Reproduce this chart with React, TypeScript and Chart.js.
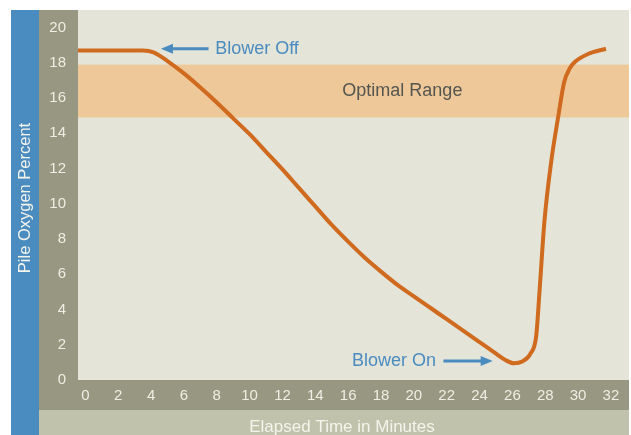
import React, { useEffect, useRef } from "react";
import { Chart, registerables } from "chart.js";

Chart.register(...registerables);

// ---- data ----
const minutes = [-0.45, 3.5, 4.15, 5, 6, 7, 8, 9, 10, 11, 12, 13, 14, 15, 16, 17, 18, 19, 20, 21, 22, 23, 24, 25, 25.6, 26.1, 26.6, 27.1, 27.45, 27.65, 27.95, 28.35, 28.8, 29.15, 29.5, 29.8, 30.6, 31.7];
const oxygenPercent = [18.7, 18.7, 18.6, 18.1, 17.4, 16.6, 15.75, 14.85, 13.95, 12.95, 11.95, 10.9, 9.85, 8.8, 7.85, 6.95, 6.15, 5.4, 4.75, 4.1, 3.45, 2.8, 2.15, 1.5, 1.12, 0.95, 1.05, 1.5, 2.5, 5.0, 9.0, 12.3, 15.0, 16.9, 17.7, 18.05, 18.5, 18.8];
const xTickValues = [0, 2, 4, 6, 8, 10, 12, 14, 16, 18, 20, 22, 24, 26, 28, 30, 32];
const yTickValues = [0, 2, 4, 6, 8, 10, 12, 14, 16, 18, 20];
const optimalLow = 14.9;
const optimalHigh = 17.9;
const xRange = [-0.45, 33.1];
const yRange = [0, 21];
const xTitle = "Elapsed Time in Minutes";
const yTitle = "Pile Oxygen Percent";
const bandLabel = "Optimal Range";
const blowerOff = { text: "Blower Off", headX: 4.6, tailX: 7.5, textX: 7.9, y: 18.8 };
const blowerOn = { text: "Blower On", headX: 24.8, tailX: 21.8, textX: 21.35, y: 1.08 };

// ---- styles ----
const FONT = "'Liberation Sans', Arial, Helvetica, sans-serif";
const BLUE = "#4A8CC0";
const OLIVE = "#989781";
const OLIVE_LIGHT = "#C1C2AC";
const PLOT_BG = "#E4E4D9";
const BAND = "#EEC898";
const LINE = "#CF6A1F";
const TICK_TEXT = "#EEEEE4";

function drawArrow(ctx: CanvasRenderingContext2D, x1: number, x2: number, y: number) {
  const dir = x2 > x1 ? 1 : -1;
  const headLen = 12;
  ctx.save();
  ctx.strokeStyle = BLUE;
  ctx.fillStyle = BLUE;
  ctx.lineWidth = 3;
  ctx.beginPath();
  ctx.moveTo(x1, y);
  ctx.lineTo(x2 - dir * headLen + dir * 2, y);
  ctx.stroke();
  ctx.beginPath();
  ctx.moveTo(x2, y);
  ctx.lineTo(x2 - dir * headLen, y - 5);
  ctx.lineTo(x2 - dir * headLen, y + 5);
  ctx.closePath();
  ctx.fill();
  ctx.restore();
}

const decorPlugin = {
  id: "decor",
  beforeDraw(chart: any) {
    const { ctx, chartArea } = chart;
    const W = chart.width;
    const H = chart.height;
    ctx.save();
    ctx.fillStyle = "#FFFFFF";
    ctx.fillRect(0, 0, W, H);
    ctx.fillStyle = BLUE;
    ctx.fillRect(11, chartArea.top, 28, H - chartArea.top);
    ctx.fillStyle = OLIVE;
    ctx.fillRect(39, chartArea.top, chartArea.left - 39, chartArea.bottom - chartArea.top + 30);
    ctx.fillRect(39, chartArea.bottom, chartArea.right - 39, 30);
    ctx.fillStyle = OLIVE_LIGHT;
    ctx.fillRect(39, chartArea.bottom + 30, chartArea.right - 39, H - chartArea.bottom - 30);
    ctx.fillStyle = PLOT_BG;
    ctx.fillRect(chartArea.left, chartArea.top, chartArea.right - chartArea.left, chartArea.bottom - chartArea.top);
    ctx.restore();
  },
  beforeDatasetsDraw(chart: any) {
    const { ctx, chartArea, scales } = chart;
    const y1 = scales.y.getPixelForValue(optimalHigh);
    const y2 = scales.y.getPixelForValue(optimalLow);
    ctx.save();
    ctx.fillStyle = BAND;
    ctx.fillRect(chartArea.left, y1, chartArea.right - chartArea.left, y2 - y1);
    ctx.fillStyle = "#555550";
    ctx.font = `18px ${FONT}`;
    ctx.textAlign = "center";
    ctx.textBaseline = "middle";
    ctx.fillText(bandLabel, scales.x.getPixelForValue(19.3), (y1 + y2) / 2);
    ctx.restore();
  },
  afterDatasetsDraw(chart: any) {
    const { ctx, chartArea, scales } = chart;
    const H = chart.height;
    ctx.save();
    ctx.font = `18px ${FONT}`;
    ctx.fillStyle = BLUE;
    ctx.textBaseline = "middle";
    const offY = scales.y.getPixelForValue(blowerOff.y);
    drawArrow(ctx, scales.x.getPixelForValue(blowerOff.tailX), scales.x.getPixelForValue(blowerOff.headX), offY);
    ctx.textAlign = "left";
    ctx.fillText(blowerOff.text, scales.x.getPixelForValue(blowerOff.textX), offY);
    const onY = scales.y.getPixelForValue(blowerOn.y);
    drawArrow(ctx, scales.x.getPixelForValue(blowerOn.tailX), scales.x.getPixelForValue(blowerOn.headX), onY);
    ctx.textAlign = "right";
    ctx.fillText(blowerOn.text, scales.x.getPixelForValue(blowerOn.textX), onY);
    ctx.fillStyle = "#F4F4EC";
    ctx.font = `17px ${FONT}`;
    ctx.textAlign = "center";
    ctx.textBaseline = "middle";
    ctx.fillText(xTitle, 342, chartArea.bottom + 30 + (H - chartArea.bottom - 30) / 2 + 5);
    ctx.translate(25, 198);
    ctx.rotate(-Math.PI / 2);
    ctx.font = `16.5px ${FONT}`;
    ctx.fillText(yTitle, 0, 0);
    ctx.restore();
  },
};

export default function App() {
  const canvasRef = useRef<HTMLCanvasElement | null>(null);

  useEffect(() => {
    if (!canvasRef.current) return;
    const chart = new Chart(canvasRef.current, {
      type: "line",
      data: {
        datasets: [
          {
            data: minutes.map((m, i) => ({ x: m, y: oxygenPercent[i] })),
            borderColor: LINE,
            borderWidth: 4,
            pointRadius: 0,
            cubicInterpolationMode: "monotone",
            fill: false,
          },
        ],
      },
      options: {
        responsive: false,
        animation: false,
        layout: { padding: { left: 39, top: 10, right: 2, bottom: 25 } },
        plugins: { legend: { display: false }, tooltip: { enabled: false } },
        scales: {
          x: {
            type: "linear",
            min: xRange[0],
            max: xRange[1],
            grid: { display: false, drawTicks: false },
            border: { display: false },
            ticks: { color: TICK_TEXT, font: { family: FONT, size: 15 }, padding: 7, maxRotation: 0, autoSkip: false },
            afterBuildTicks: (scale: any) => {
              scale.ticks = xTickValues.map((v) => ({ value: v }));
            },
            afterFit: (scale: any) => {
              scale.height = 30;
              scale.paddingLeft = 0;
              scale.paddingRight = 0;
            },
          },
          y: {
            type: "linear",
            min: yRange[0],
            max: yRange[1],
            grid: { display: false, drawTicks: false },
            border: { display: false },
            ticks: { color: TICK_TEXT, font: { family: FONT, size: 15 }, padding: 12 },
            afterBuildTicks: (scale: any) => {
              scale.ticks = yTickValues.map((v) => ({ value: v }));
            },
            afterFit: (scale: any) => {
              scale.width = 39;
              scale.paddingTop = 0;
              scale.paddingBottom = 0;
            },
          },
        },
      },
      plugins: [decorPlugin],
    });
    return () => chart.destroy();
  }, []);

  return (
    <div style={{ position: "absolute", left: 0, top: 0, width: 631, height: 435 }}>
      <canvas ref={canvasRef} width={631} height={435} style={{ display: "block", width: 631, height: 435 }} />
    </div>
  );
}
